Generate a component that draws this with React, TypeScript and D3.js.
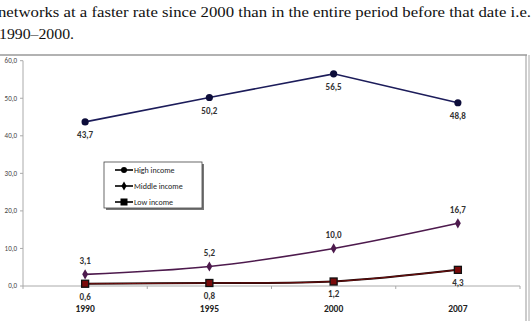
import React from 'react';
import * as d3 from 'd3';

// data
const years = ['1990', '1995', '2000', '2007'];
const highIncome = [43.7, 50.2, 56.5, 48.8];
const middleIncome = [3.1, 5.2, 10.0, 16.7];
const lowIncome = [0.6, 0.8, 1.2, 4.3];
const yTicks = [0, 10, 20, 30, 40, 50, 60];
const legendNames = ['High income', 'Middle income', 'Low income'];
const introLines = [
  'networks at a faster rate since 2000 than in the entire period before that date i.e.',
  '1990\u20132000.',
];

const W = 532;
const H = 321;

const fmt = (v: number) => d3.format('.1f')(v).replace('.', ',');

export default function App() {
  // plot area
  const left = 23, right = 520, top = 60.7, bottom = 286;

  const x = d3.scaleBand<string>().domain(years).range([left, right]).padding(0);
  const cx = (i: number) => (x(years[i]) as number) + x.bandwidth() / 2;
  const y = d3.scaleLinear().domain([0, 60]).range([bottom, top]);

  const straight = d3.line<number>().x((_, i) => cx(i)).y(d => y(d));
  const smooth = d3.line<number>().x((_, i) => cx(i)).y(d => y(d)).curve(d3.curveCatmullRom.alpha(0.5));

  const sans = { fontFamily: 'Carlito, "Open Sans", "Liberation Sans", Arial, sans-serif' };
  const serif = { fontFamily: '"Liberation Serif", "DejaVu Serif", serif' };
  const diamond = d3.symbol().type(d3.symbolDiamond).size(30)() as string;

  const bandEdges = years.map(yr => (x(yr) as number) + x.bandwidth());

  return (
    <svg width={W} height={H} style={{ position: 'absolute', left: 0, top: 0, background: '#fff' }}>
      {/* paragraph text above the chart */}
      <text x={-2} y={17} style={serif} fontSize={15.5} fill="#111" textLength={533} lengthAdjust="spacingAndGlyphs">
        {introLines[0]}
      </text>
      <text x={-1} y={38.5} style={serif} fontSize={15.5} fill="#111" textLength={75} lengthAdjust="spacingAndGlyphs">
        {introLines[1]}
      </text>

      {/* chart frame */}
      <line x1={0} x2={527} y1={55} y2={55} stroke="#999" strokeWidth={1.5} />
      <line x1={526} x2={526} y1={55} y2={H} stroke="#999" strokeWidth={1} />
      <line x1={529} x2={529} y1={55} y2={H} stroke="#aaa" strokeWidth={1} />

      {/* y axis */}
      <line x1={left} x2={left} y1={top} y2={bottom} stroke="#aaa" />
      {yTicks.map(t => (
        <g key={t}>
          <line x1={left - 3} x2={left} y1={y(t)} y2={y(t)} stroke="#aaa" />
          <text x={17} y={y(t)} dy="0.35em" textAnchor="end" style={sans} fontSize={7} fill="#444">
            {fmt(t)}
          </text>
        </g>
      ))}

      {/* x axis */}
      <line x1={left} x2={right} y1={bottom} y2={bottom} stroke="#aaa" />
      {[left, ...bandEdges].map((bx, i) => (
        <line key={i} x1={bx} x2={bx} y1={bottom} y2={bottom + 3} stroke="#aaa" />
      ))}
      {years.map((yr, i) => (
        <text key={yr} x={cx(i)} y={311.5} textAnchor="middle" style={sans} fontWeight="bold" fontSize={9.5} fill="#222">
          {yr}
        </text>
      ))}

      {/* low income */}
      <path d={smooth(lowIncome) as string} fill="none" stroke="#1a0505" strokeWidth={2} />
      <path d={smooth(lowIncome) as string} fill="none" stroke="#7a1010" strokeWidth={0.9} />
      {lowIncome.map((v, i) => (
        <g key={i}>
          <rect x={cx(i) - 3.5} y={y(v) - 3.5} width={7} height={7} fill="#7a0a0a" stroke="#111" strokeWidth={1.3} />
          <text x={cx(i)} y={y(v) + 16} textAnchor="middle" style={sans} fontWeight="bold" fontSize={9} fill="#333">
            {fmt(v)}
          </text>
        </g>
      ))}

      {/* middle income */}
      <path d={smooth(middleIncome) as string} fill="none" stroke="#4d1a4d" strokeWidth={1.6} />
      {middleIncome.map((v, i) => (
        <g key={i}>
          <path d={diamond} transform={`translate(${cx(i)},${y(v)})`} fill="#4d1a4d" />
          <text x={cx(i)} y={y(v) - 10} textAnchor="middle" style={sans} fontWeight="bold" fontSize={9} fill="#333">
            {fmt(v)}
          </text>
        </g>
      ))}

      {/* high income */}
      <path d={straight(highIncome) as string} fill="none" stroke="#1c1c5a" strokeWidth={1.6} />
      {highIncome.map((v, i) => (
        <g key={i}>
          <circle cx={cx(i)} cy={y(v)} r={3.6} fill="#0d0d3a" />
          <text x={cx(i)} y={y(v) + 16.5} textAnchor="middle" style={sans} fontWeight="bold" fontSize={9} fill="#333">
            {fmt(v)}
          </text>
        </g>
      ))}

      {/* legend */}
      <rect x={106} y={164} width={98} height={46} fill="#777" />
      <rect x={104} y={162} width={98} height={46} fill="#fff" stroke="#444" strokeWidth={0.8} />
      {legendNames.map((name, i) => {
        const ly = 170 + i * 16;
        return (
          <g key={name}>
            <line x1={115} x2={133} y1={ly} y2={ly} stroke="#000" strokeWidth={1.6} />
            {i === 0 && <circle cx={124} cy={ly} r={3} fill="#000" />}
            {i === 1 && <path d={d3.symbol().type(d3.symbolDiamond).size(24)() as string} transform={`translate(124,${ly})`} fill="#000" />}
            {i === 2 && <rect x={120.5} y={ly - 3.5} width={7} height={7} fill="#000" />}
            <text x={134} y={ly} dy="0.35em" style={sans} fontSize={8} fill="#222">
              {name}
            </text>
          </g>
        );
      })}
    </svg>
  );
}
